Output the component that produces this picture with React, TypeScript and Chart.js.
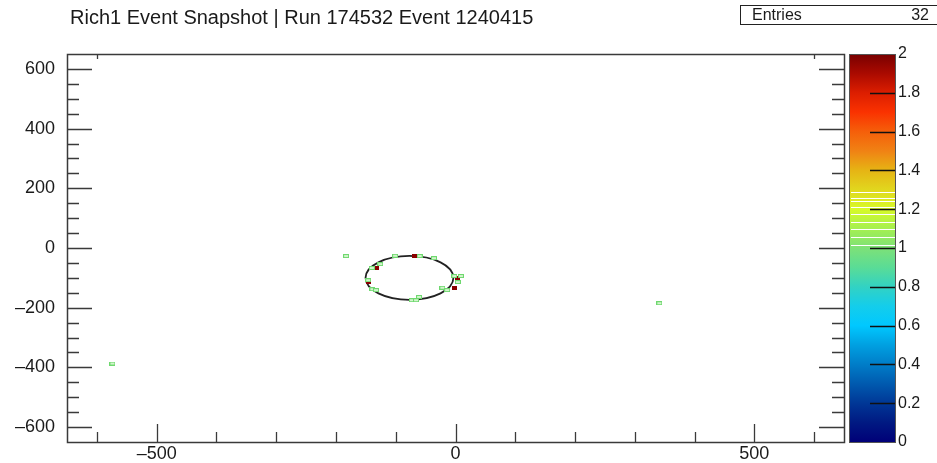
import React, { useEffect, useRef } from 'react';
import { Chart, registerables } from 'chart.js';

Chart.register(...registerables);

const TITLE = 'Rich1 Event Snapshot | Run 174532 Event 1240415';
const ENTRIES_LABEL = 'Entries';
const ENTRIES = 32;

const X_MIN = -650;
const X_MAX = 650;
const Y_MIN = -650;
const Y_MAX = 650;
const Z_MIN = 0;
const Z_MAX = 2;

const X_LABEL_TICKS = [-500, 0, 500];
const X_SMALL_TICKS = [-600, -500, -400, -300, -200, -100, 0, 100, 200, 300, 400, 500, 600];
const X_TOP_TICKS = [-600, 600];
const Y_LABEL_TICKS = [-600, -400, -200, 0, 200, 400, 600];
const Y_SMALL_TICKS = [-600, -550, -500, -450, -400, -350, -300, -250, -200, -150, -100, -50, 0, 50, 100, 150, 200, 250, 300, 350, 400, 450, 500, 550, 600];
const Z_LABEL_TICKS = [0, 0.2, 0.4, 0.6, 0.8, 1, 1.2, 1.4, 1.6, 1.8, 2];

// hits with content 1 (green)
const HIT1_X = [-183, -101, -60, -36, -126, -140, -146, -139, -133, -73, -66, -61, -22, -14, 4, 9, -2, -574, 341];
const HIT1_Y = [-27, -26, -27, -34, -54, -67, -108, -138, -141, -175, -175, -164, -133, -141, -114, -94, -94, -387, -185];
// hits with content 2 (dark red)
const HIT2_X = [-68, -133, -146, -2, 3, 4];
const HIT2_Y = [-26, -67, -114, -133, -100, -104];

// fitted ring
const RING_X = -77;
const RING_Y = -100;
const RING_R = 73.5;

// colour palette of the z axis
const PALETTE_VALUES = [0, 0.1, 0.2, 0.3, 0.4, 0.5, 0.6, 0.7, 0.8, 0.9, 1.0, 1.1, 1.2, 1.3, 1.4, 1.5, 1.6, 1.7, 1.8, 1.9, 2.0];
const PALETTE_COLORS = [
  'rgb(0,0,120)', 'rgb(0,25,130)', 'rgb(0,55,150)', 'rgb(0,90,175)', 'rgb(0,125,200)',
  'rgb(0,160,225)', 'rgb(0,200,255)', 'rgb(20,205,235)', 'rgb(50,210,195)', 'rgb(90,220,150)',
  'rgb(125,225,120)', 'rgb(165,240,80)', 'rgb(215,250,40)', 'rgb(225,215,30)', 'rgb(230,180,20)',
  'rgb(240,130,20)', 'rgb(245,95,10)', 'rgb(250,50,0)', 'rgb(220,30,0)', 'rgb(170,10,0)', 'rgb(120,0,0)',
];
const PALETTE_WHITE_LINES = [1.017, 1.058, 1.096, 1.136, 1.175, 1.213, 1.24, 1.256, 1.29];

const FONT = '"Liberation Sans", Arial, Helvetica, sans-serif';
const TEXT_COLOR = '#1a1a1a';
const FRAME_COLOR = '#3a3a3a';

const fmtAxis = (v: number) => (v < 0 ? '\u2013' + Math.abs(v) : String(v));

function makeBox(w: number, h: number, fill: string, stroke: string | null) {
  const c = document.createElement('canvas');
  c.width = w;
  c.height = h;
  const g = c.getContext('2d')!;
  g.fillStyle = fill;
  g.fillRect(0, 0, w, h);
  if (stroke) {
    g.strokeStyle = stroke;
    g.lineWidth = 1;
    g.strokeRect(0.5, 0.5, w - 1, h - 1);
  }
  return c;
}

const noPad = (s: any) => {
  s.paddingTop = 0;
  s.paddingBottom = 0;
  s.paddingLeft = 0;
  s.paddingRight = 0;
};

const rootPlugin = {
  id: 'rootStyle',
  beforeDatasetsDraw(chart: any) {
    const { ctx, scales } = chart;
    const x = scales.x;
    const y = scales.y;
    const cx = x.getPixelForValue(RING_X);
    const cy = y.getPixelForValue(RING_Y);
    const rx = Math.abs(x.getPixelForValue(RING_X + RING_R) - cx);
    const ry = Math.abs(y.getPixelForValue(RING_Y + RING_R) - cy);
    ctx.save();
    ctx.strokeStyle = '#222';
    ctx.lineWidth = 1.8;
    ctx.beginPath();
    ctx.ellipse(cx, cy, rx, ry, 0, 0, Math.PI * 2);
    ctx.stroke();
    ctx.restore();
  },
  afterDatasetsDraw(chart: any) {
    const { ctx, chartArea: a, scales } = chart;
    const x = scales.x;
    const y = scales.y;
    ctx.save();
    ctx.strokeStyle = FRAME_COLOR;
    ctx.lineWidth = 1.3;
    ctx.beginPath();
    for (const v of X_SMALL_TICKS) {
      const px = Math.round(x.getPixelForValue(v)) + 0.5;
      const big = v % 500 === 0;
      ctx.moveTo(px, a.bottom);
      ctx.lineTo(px, a.bottom - (big ? 18 : 10));
    }
    for (const v of X_TOP_TICKS) {
      const px = Math.round(x.getPixelForValue(v)) + 0.5;
      ctx.moveTo(px, a.top);
      ctx.lineTo(px, a.top + 5);
    }
    for (const v of Y_SMALL_TICKS) {
      const py = Math.round(y.getPixelForValue(v)) + 0.5;
      const big = v % 200 === 0;
      const len = big ? 25 : 12;
      ctx.moveTo(a.left, py);
      ctx.lineTo(a.left + len, py);
      ctx.moveTo(a.right, py);
      ctx.lineTo(a.right - len, py);
    }
    ctx.stroke();
    ctx.lineWidth = 1.5;
    ctx.strokeRect(Math.round(a.left) + 0.5, Math.round(a.top) + 0.5, Math.round(a.right - a.left), Math.round(a.bottom - a.top));
    ctx.restore();
  },
  afterDraw(chart: any) {
    const { ctx, scales } = chart;
    const z = scales.z;
    const top = z.getPixelForValue(Z_MAX);
    const bottom = z.getPixelForValue(Z_MIN);
    const left = z.left + 5;
    const right = z.left + 51;
    ctx.save();
    const grad = ctx.createLinearGradient(0, bottom, 0, top);
    PALETTE_VALUES.forEach((v, i) => grad.addColorStop((v - Z_MIN) / (Z_MAX - Z_MIN), PALETTE_COLORS[i]));
    ctx.fillStyle = grad;
    ctx.fillRect(left, top, right - left, bottom - top);
    ctx.strokeStyle = '#ffffff';
    ctx.lineWidth = 1;
    ctx.beginPath();
    for (const v of PALETTE_WHITE_LINES) {
      const py = Math.round(z.getPixelForValue(v)) + 0.5;
      ctx.moveTo(left + 2, py);
      ctx.lineTo(right, py);
    }
    ctx.stroke();
    ctx.strokeStyle = '#111';
    ctx.lineWidth = 1.3;
    ctx.beginPath();
    for (const v of Z_LABEL_TICKS) {
      if (v === Z_MIN || v === Z_MAX) continue;
      const py = Math.round(z.getPixelForValue(v)) + 0.5;
      ctx.moveTo(right, py);
      ctx.lineTo(right - 25, py);
    }
    ctx.stroke();
    ctx.strokeStyle = '#555';
    ctx.lineWidth = 1;
    ctx.strokeRect(Math.round(left) + 0.5, Math.round(top) + 0.5, Math.round(right - left), Math.round(bottom - top));

    // title
    ctx.fillStyle = TEXT_COLOR;
    ctx.font = '20px ' + FONT;
    ctx.textBaseline = 'middle';
    ctx.textAlign = 'left';
    ctx.fillText(TITLE, 70, 18);

    // statistics box
    ctx.strokeStyle = '#222';
    ctx.lineWidth = 1;
    ctx.strokeRect(740.5, 5.5, 210, 19);
    ctx.font = '16px ' + FONT;
    ctx.fillText(ENTRIES_LABEL, 752, 15.5);
    ctx.textAlign = 'right';
    ctx.fillText(String(ENTRIES), 929, 15.5);
    ctx.restore();
  },
};

export default function App() {
  const ref = useRef<HTMLCanvasElement | null>(null);

  useEffect(() => {
    if (!ref.current) return;
    const greenBox = makeBox(6, 4, '#d2f5cc', '#6fd86f');
    const redBox = makeBox(5, 4, '#8a0000', null);

    const chart = new Chart(ref.current, {
      type: 'scatter',
      data: {
        datasets: [
          {
            label: 'content 1',
            data: HIT1_X.map((v, i) => ({ x: v, y: HIT1_Y[i] })),
            pointStyle: greenBox as any,
            pointRadius: 3,
            backgroundColor: '#7fe07f',
            borderColor: '#6fd86f',
          },
          {
            label: 'content 2',
            data: HIT2_X.map((v, i) => ({ x: v, y: HIT2_Y[i] })),
            pointStyle: redBox as any,
            pointRadius: 3,
            backgroundColor: '#8a0000',
            borderColor: '#8a0000',
          },
        ],
      },
      options: {
        animation: false,
        responsive: false,
        maintainAspectRatio: false,
        devicePixelRatio: 1,
        layout: { padding: { top: 54, left: 0, right: 0, bottom: 0 } },
        plugins: {
          legend: { display: false },
          tooltip: { enabled: false },
          title: { display: false },
        },
        scales: {
          x: {
            type: 'linear',
            position: 'bottom',
            min: X_MIN,
            max: X_MAX,
            grid: { display: false, drawTicks: false },
            border: { display: false },
            ticks: {
              autoSkip: false,
              maxRotation: 0,
              padding: 1,
              color: TEXT_COLOR,
              font: { family: FONT, size: 18 },
              callback: (v: any) => fmtAxis(Number(v)),
            },
            afterBuildTicks: (s: any) => {
              s.ticks = X_LABEL_TICKS.map((value) => ({ value }));
            },
            afterFit: (s: any) => {
              s.height = 21;
              noPad(s);
            },
          },
          y: {
            type: 'linear',
            position: 'left',
            min: Y_MIN,
            max: Y_MAX,
            grid: { display: false, drawTicks: false },
            border: { display: false },
            ticks: {
              autoSkip: false,
              padding: 12,
              color: TEXT_COLOR,
              font: { family: FONT, size: 18 },
              callback: (v: any) => fmtAxis(Number(v)),
            },
            afterBuildTicks: (s: any) => {
              s.ticks = Y_LABEL_TICKS.map((value) => ({ value }));
            },
            afterFit: (s: any) => {
              s.width = 67;
              noPad(s);
            },
          },
          z: {
            axis: 'y',
            type: 'linear',
            position: 'right',
            min: Z_MIN,
            max: Z_MAX,
            grid: { display: false, drawTicks: false },
            border: { display: false },
            ticks: {
              autoSkip: false,
              padding: 54,
              color: TEXT_COLOR,
              font: { family: FONT, size: 16 },
              callback: (v: any) => String(Math.round(Number(v) * 10) / 10),
            },
            afterBuildTicks: (s: any) => {
              s.ticks = Z_LABEL_TICKS.map((value) => ({ value }));
            },
            afterFit: (s: any) => {
              s.width = 93;
              noPad(s);
            },
          },
        } as any,
      },
      plugins: [rootPlugin],
    });
    return () => chart.destroy();
  }, []);

  return (
    <div style={{ position: 'fixed', left: 0, top: 0, width: 937, height: 463, background: '#fff' }}>
      <canvas ref={ref} width={937} height={463} style={{ display: 'block', width: 937, height: 463 }} />
    </div>
  );
}
